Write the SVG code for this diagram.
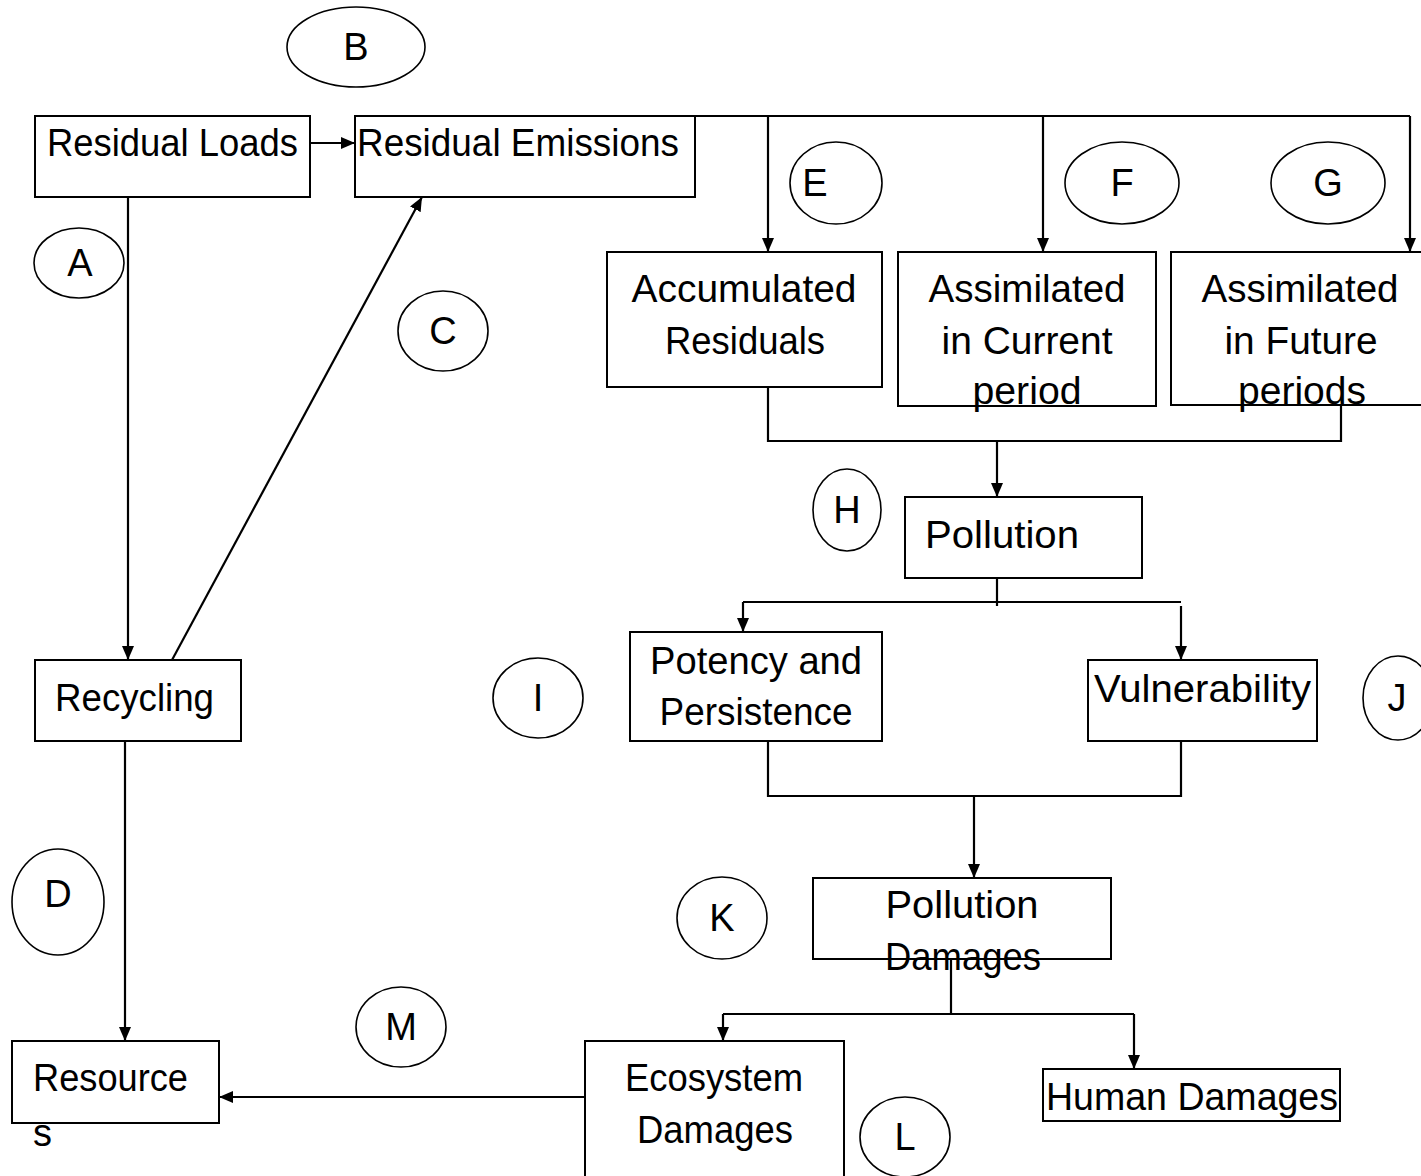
<svg xmlns="http://www.w3.org/2000/svg" width="1421" height="1176" viewBox="0 0 1421 1176">
<style>
rect.box{fill:#fff;stroke:#000;stroke-width:2}
ellipse{fill:#fff;stroke:#000;stroke-width:1.6}
text{font-family:"Liberation Sans",Arial,sans-serif;font-size:38px;fill:#000}
.c{text-anchor:middle}
.ln{fill:none;stroke:#000;stroke-width:2.2}
</style>
<defs>
<marker id="ah" viewBox="0 0 14 12" refX="14" refY="6" markerWidth="14" markerHeight="12" markerUnits="userSpaceOnUse" orient="auto">
<path d="M0,0 L14,6 L0,12 Z" fill="#000"/>
</marker>
</defs>
<rect width="1421" height="1176" fill="#fff"/>
<g id="connectors">
<line class="ln" x1="310" y1="143" x2="355" y2="143" marker-end="url(#ah)"/>
<line class="ln" x1="128" y1="197" x2="128" y2="660" marker-end="url(#ah)"/>
<line class="ln" x1="172" y1="660" x2="422" y2="197" marker-end="url(#ah)"/>
<line class="ln" x1="125" y1="741" x2="125" y2="1041" marker-end="url(#ah)"/>
<polyline class="ln" points="695,116 1410,116"/>
<line class="ln" x1="768" y1="116" x2="768" y2="252" marker-end="url(#ah)"/>
<line class="ln" x1="1043" y1="116" x2="1043" y2="252" marker-end="url(#ah)"/>
<line class="ln" x1="1410" y1="116" x2="1410" y2="252" marker-end="url(#ah)"/>
<polyline class="ln" points="768,387 768,441 1341,441 1341,405"/>
<line class="ln" x1="997" y1="441" x2="997" y2="497" marker-end="url(#ah)"/>
<line class="ln" x1="997" y1="578" x2="997" y2="606"/>
<line class="ln" x1="743" y1="602" x2="1181" y2="602"/>
<line class="ln" x1="743" y1="602" x2="743" y2="632" marker-end="url(#ah)"/>
<line class="ln" x1="1181" y1="606" x2="1181" y2="660" marker-end="url(#ah)"/>
<polyline class="ln" points="768,741 768,796 1181,796 1181,741"/>
<line class="ln" x1="974" y1="796" x2="974" y2="878" marker-end="url(#ah)"/>
<line class="ln" x1="951" y1="959" x2="951" y2="1014"/>
<line class="ln" x1="723" y1="1014" x2="1134" y2="1014"/>
<line class="ln" x1="723" y1="1014" x2="723" y2="1041" marker-end="url(#ah)"/>
<line class="ln" x1="1134" y1="1014" x2="1134" y2="1069" marker-end="url(#ah)"/>
<line class="ln" x1="585" y1="1097" x2="219" y2="1097" marker-end="url(#ah)"/>
</g>
<g id="residual-loads"><rect class="box" x="35" y="116" width="275" height="81"/><text x="47" y="156" textLength="251" lengthAdjust="spacingAndGlyphs">Residual Loads</text></g>
<g id="residual-emissions"><rect class="box" x="355" y="116" width="340" height="81"/><text x="357" y="156" textLength="322" lengthAdjust="spacingAndGlyphs">Residual Emissions</text></g>
<g id="accumulated"><rect class="box" x="607" y="252" width="275" height="135"/><text class="c" x="744" y="302" textLength="225" lengthAdjust="spacingAndGlyphs">Accumulated</text><text class="c" x="745" y="354" textLength="160" lengthAdjust="spacingAndGlyphs">Residuals</text></g>
<g id="assim-current"><rect class="box" x="898" y="252" width="258" height="154"/><text class="c" x="1027" y="302" textLength="197" lengthAdjust="spacingAndGlyphs">Assimilated</text><text class="c" x="1027" y="354" textLength="171" lengthAdjust="spacingAndGlyphs">in Current</text><text class="c" x="1027" y="404" textLength="109" lengthAdjust="spacingAndGlyphs">period</text></g>
<g id="assim-future"><rect class="box" x="1171" y="252" width="260" height="153"/><text class="c" x="1300" y="302" textLength="197" lengthAdjust="spacingAndGlyphs">Assimilated</text><text class="c" x="1301" y="354" textLength="153" lengthAdjust="spacingAndGlyphs">in Future</text><text class="c" x="1302" y="404" textLength="128" lengthAdjust="spacingAndGlyphs">periods</text></g>
<g id="pollution"><rect class="box" x="905" y="497" width="237" height="81"/><text x="925" y="548" textLength="154" lengthAdjust="spacingAndGlyphs">Pollution</text></g>
<g id="potency"><rect class="box" x="630" y="632" width="252" height="109"/><text class="c" x="756" y="674" textLength="212" lengthAdjust="spacingAndGlyphs">Potency and</text><text class="c" x="756" y="725" textLength="193" lengthAdjust="spacingAndGlyphs">Persistence</text></g>
<g id="vulnerability"><rect class="box" x="1088" y="660" width="229" height="81"/><text x="1094" y="702" textLength="217" lengthAdjust="spacingAndGlyphs">Vulnerability</text></g>
<g id="pollution-damages"><rect class="box" x="813" y="878" width="298" height="81"/><text class="c" x="962" y="918" textLength="153" lengthAdjust="spacingAndGlyphs">Pollution</text><text class="c" x="963" y="970" textLength="156" lengthAdjust="spacingAndGlyphs">Damages</text></g>
<g id="ecosystem-damages"><rect class="box" x="585" y="1041" width="259" height="145"/><text class="c" x="714" y="1091" textLength="178" lengthAdjust="spacingAndGlyphs">Ecosystem</text><text class="c" x="715" y="1143" textLength="156" lengthAdjust="spacingAndGlyphs">Damages</text></g>
<g id="human-damages"><rect class="box" x="1043" y="1069" width="297" height="52"/><text x="1046" y="1110" textLength="292" lengthAdjust="spacingAndGlyphs">Human Damages</text></g>
<g id="recycling"><rect class="box" x="35" y="660" width="206" height="81"/><text x="55" y="711" textLength="159" lengthAdjust="spacingAndGlyphs">Recycling</text></g>
<g id="resources"><rect class="box" x="12" y="1041" width="207" height="82"/><text x="33" y="1091" textLength="155" lengthAdjust="spacingAndGlyphs">Resource</text><text x="33" y="1146">s</text></g>
<g id="label-B"><ellipse cx="356" cy="47" rx="69" ry="40"/><text class="c" x="356" y="60">B</text></g>
<g id="label-A"><ellipse cx="79" cy="263" rx="45" ry="35"/><text class="c" x="80" y="276">A</text></g>
<g id="label-C"><ellipse cx="443" cy="331" rx="45" ry="40"/><text class="c" x="443" y="344">C</text></g>
<g id="label-D"><ellipse cx="58" cy="902" rx="46" ry="53"/><text class="c" x="58" y="907">D</text></g>
<g id="label-E"><ellipse cx="836" cy="183" rx="46" ry="41"/><text class="c" x="815" y="196">E</text></g>
<g id="label-F"><ellipse cx="1122" cy="183" rx="57" ry="41"/><text class="c" x="1122" y="196">F</text></g>
<g id="label-G"><ellipse cx="1328" cy="183" rx="57" ry="41"/><text class="c" x="1328" y="196">G</text></g>
<g id="label-H"><ellipse cx="847" cy="510" rx="34" ry="41"/><text class="c" x="847" y="523">H</text></g>
<g id="label-I"><ellipse cx="538" cy="698" rx="45" ry="40"/><text class="c" x="538" y="711">I</text></g>
<g id="label-J"><ellipse cx="1398" cy="698" rx="35" ry="42"/><text class="c" x="1397" y="711">J</text></g>
<g id="label-K"><ellipse cx="722" cy="918" rx="45" ry="41"/><text class="c" x="722" y="931">K</text></g>
<g id="label-L"><ellipse cx="905" cy="1137" rx="45" ry="40"/><text class="c" x="905" y="1150">L</text></g>
<g id="label-M"><ellipse cx="401" cy="1027" rx="45" ry="40"/><text class="c" x="401" y="1040">M</text></g>
</svg>
